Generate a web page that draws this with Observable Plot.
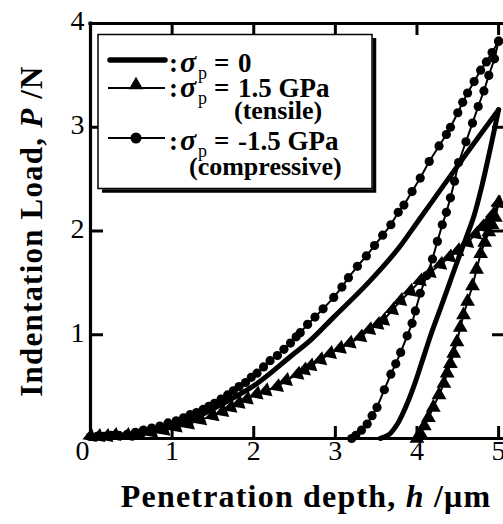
<!DOCTYPE html>
<html><head><meta charset="utf-8">
<script src="https://cdn.jsdelivr.net/npm/d3@7"></script>
<script src="https://cdn.jsdelivr.net/npm/@observablehq/plot@0.6"></script>
<style>body{margin:0;background:#fff} svg{display:block}</style>
</head><body><div id="chart"></div>
<script>
// ---- data ----
const xTicks = [0, 1, 2, 3, 4, 5];
const yTicks = [1, 2, 3, 4];

// sigma_p = 0 (thick solid line)
const zeroLoadH = [0, 0.4, 0.82, 1.23, 1.63, 2.04, 2.45, 2.70, 2.98, 3.39, 3.80, 4.00, 4.20, 4.60, 5.00];
const zeroLoadP = [0.01, 0.02, 0.08, 0.18, 0.34, 0.53, 0.79, 0.95, 1.17, 1.49, 1.86, 2.08, 2.30, 2.74, 3.17];
const zeroUnloadH = [5.00, 4.90, 4.80, 4.70, 4.60, 4.50, 4.40, 4.30, 4.17, 4.07, 3.96, 3.86, 3.76, 3.66, 3.55];
const zeroUnloadP = [3.17, 2.80, 2.45, 2.15, 1.93, 1.72, 1.50, 1.28, 1.00, 0.76, 0.50, 0.30, 0.14, 0.04, 0.00];

// sigma_p = 1.5 GPa (tensile, triangles)
const tenLoadH = [0.00, 0.10, 0.20, 0.30, 0.45, 0.60, 0.75, 0.90, 1.05, 1.20, 1.35, 1.50, 1.62, 1.72, 1.82, 1.92, 2.04, 2.15, 2.29, 2.40, 2.54, 2.62, 2.70, 2.82, 2.94, 3.06, 3.18, 3.31, 3.42, 3.52, 3.59, 3.70, 3.80, 3.92, 4.04, 4.16, 4.29, 4.40, 4.50, 4.62, 4.72, 4.80, 4.86, 4.93, 5.00];
const tenLoadP = [0.02, 0.02, 0.02, 0.03, 0.03, 0.04, 0.06, 0.08, 0.11, 0.14, 0.18, 0.22, 0.26, 0.30, 0.34, 0.38, 0.43, 0.46, 0.50, 0.56, 0.62, 0.66, 0.70, 0.76, 0.82, 0.87, 0.92, 0.98, 1.05, 1.10, 1.14, 1.24, 1.33, 1.42, 1.52, 1.60, 1.68, 1.75, 1.81, 1.89, 1.97, 2.04, 2.08, 2.16, 2.27];
const tenUnloadH = [5.00, 4.96, 4.92, 4.88, 4.83, 4.78, 4.73, 4.68, 4.62, 4.57, 4.53, 4.49, 4.45, 4.41, 4.37, 4.33, 4.27, 4.20, 4.14, 4.09, 4.04, 4.00];
const tenUnloadP = [2.27, 2.13, 2.06, 1.99, 1.89, 1.78, 1.63, 1.47, 1.32, 1.19, 1.07, 0.93, 0.82, 0.72, 0.63, 0.53, 0.42, 0.30, 0.20, 0.12, 0.05, 0.00];

// sigma_p = -1.5 GPa (compressive, circles)
const comLoadH = [0.00, 0.08, 0.16, 0.25, 0.35, 0.45, 0.55, 0.65, 0.75, 0.85, 0.95, 1.05, 1.14, 1.22, 1.30, 1.38, 1.45, 1.52, 1.60, 1.68, 1.75, 1.82, 1.90, 1.97, 2.04, 2.12, 2.20, 2.29, 2.37, 2.45, 2.52, 2.57, 2.66, 2.75, 2.85, 2.98, 3.08, 3.16, 3.27, 3.38, 3.48, 3.58, 3.68, 3.77, 3.84, 3.94, 4.04, 4.15, 4.27, 4.36, 4.41, 4.50, 4.56, 4.62, 4.70, 4.78, 4.85, 4.92, 5.00];
const comLoadP = [0.02, 0.02, 0.02, 0.03, 0.03, 0.04, 0.06, 0.08, 0.10, 0.12, 0.15, 0.17, 0.20, 0.23, 0.25, 0.28, 0.31, 0.34, 0.38, 0.42, 0.46, 0.50, 0.54, 0.59, 0.63, 0.69, 0.75, 0.80, 0.86, 0.92, 0.98, 1.02, 1.10, 1.17, 1.25, 1.36, 1.46, 1.55, 1.66, 1.76, 1.86, 1.96, 2.06, 2.18, 2.25, 2.38, 2.51, 2.67, 2.82, 2.93, 3.00, 3.14, 3.24, 3.33, 3.44, 3.55, 3.63, 3.72, 3.83];
const comUnloadH = [5.00, 4.95, 4.88, 4.82, 4.75, 4.68, 4.60, 4.51, 4.46, 4.41, 4.36, 4.31, 4.25, 4.19, 4.12, 4.04, 3.98, 3.94, 3.88, 3.80, 3.74, 3.68, 3.60, 3.51, 3.45, 3.39, 3.32, 3.25, 3.20];
const comUnloadP = [3.83, 3.66, 3.50, 3.35, 3.20, 3.04, 2.86, 2.66, 2.48, 2.32, 2.18, 2.06, 1.90, 1.73, 1.57, 1.40, 1.23, 1.11, 0.99, 0.83, 0.72, 0.62, 0.47, 0.30, 0.22, 0.14, 0.08, 0.03, 0.00];

// legend texts
const legendValues = ["0", "1.5 GPa", "-1.5 GPa"];
const legendNotes = ["(tensile)", "(compressive)"];

// ---- build tables ----
const rows = (H, P) => H.map((h, i) => ({h, P: P[i]}));
const zeroLoad = rows(zeroLoadH, zeroLoadP), zeroUnload = rows(zeroUnloadH, zeroUnloadP);
const tenLoad = rows(tenLoadH, tenLoadP), tenUnload = rows(tenUnloadH, tenUnloadP);
const comLoad = rows(comLoadH, comLoadP), comUnload = rows(comUnloadH, comUnloadP);

const W = 503, Ht = 524, mL = 90, mR = 0, mT = 23, mB = 86;
const pw = W - mL - mR, ph = Ht - mT - mB;
const font = "'Liberation Serif', 'Times New Roman', serif";

const plot = Plot.plot({
  width: W, height: Ht,
  marginLeft: mL, marginRight: mR, marginTop: mT, marginBottom: mB,
  x: {domain: [0, 5.06], axis: null},
  y: {domain: [0, 4], axis: null},
  style: {fontFamily: font, background: "white", color: "black", overflow: "visible"},
  marks: [
    // curves
    Plot.line(zeroLoad, {x: "h", y: "P", stroke: "black", strokeWidth: 5, curve: "monotone-x"}),
    Plot.line(zeroUnload, {x: "h", y: "P", stroke: "black", strokeWidth: 5, curve: "catmull-rom"}),
    Plot.line(tenLoad, {x: "h", y: "P", stroke: "black", strokeWidth: 2}),
    Plot.line(tenUnload, {x: "h", y: "P", stroke: "black", strokeWidth: 2}),
    Plot.line(comLoad, {x: "h", y: "P", stroke: "black", strokeWidth: 2}),
    Plot.line(comUnload, {x: "h", y: "P", stroke: "black", strokeWidth: 2}),
    Plot.dot(tenLoad, {x: "h", y: "P", symbol: "triangle", r: 5.5, fill: "black", rotate: -110}),
    Plot.dot(tenUnload, {x: "h", y: "P", symbol: "triangle", r: 5.5, fill: "black"}),
    Plot.dot(comLoad, {x: "h", y: "P", r: 4.6, fill: "black"}),
    Plot.dot(comUnload, {x: "h", y: "P", r: 4.6, fill: "black"}),
    // spines
    Plot.ruleY([0], {strokeWidth: 3.2, strokeLinecap: "square"}),
    Plot.ruleY([4], {strokeWidth: 3.2, strokeLinecap: "square"}),
    Plot.ruleX([0], {strokeWidth: 3.2, strokeLinecap: "square"}),
    // inward ticks
    Plot.tickX(xTicks.slice(1), {x: d => d, strokeWidth: 3, insetTop: ph - 12}),
    Plot.tickX(xTicks.slice(1), {x: d => d, strokeWidth: 3, insetBottom: ph - 12}),
    Plot.tickY(yTicks, {y: d => d, strokeWidth: 3, insetRight: pw - 13}),
    Plot.tickY(yTicks.slice(0, 3), {y: d => d, strokeWidth: 3, insetLeft: pw - 11}),
    // tick labels
    Plot.text(xTicks.slice(1), {x: d => d, text: d => String(d), frameAnchor: "bottom", dy: 21, fontSize: 28, fill: "black"}),
    Plot.text(xTicks.slice(0, 1), {x: d => d, text: d => String(d), frameAnchor: "bottom", dy: 21, dx: -8, fontSize: 28, fill: "black"}),
    Plot.text(yTicks, {y: d => d, text: d => String(d), frameAnchor: "left", textAnchor: "end", dx: -6, dy: -2, fontSize: 28, fill: "black"})
  ]
});
document.getElementById("chart").appendChild(plot);

// ---- axis titles and legend (overlay on the same SVG) ----
const svg = d3.select(plot);
const xt = svg.append("text").attr("x", 306).attr("y", 507).attr("text-anchor", "middle")
  .style("font-family", font).style("font-size", "32px").style("font-weight", "bold")
  .style("letter-spacing", "1.2px").attr("fill", "black");
xt.append("tspan").text("Penetration depth, ");
xt.append("tspan").style("font-style", "italic").text("h");
xt.append("tspan").text(" /\u03BCm");

const yt = svg.append("text").attr("transform", "translate(42,231) rotate(-90)").attr("text-anchor", "middle")
  .style("font-family", font).style("font-size", "31px").style("font-weight", "bold")
  .style("letter-spacing", "1.2px").attr("fill", "black");
yt.append("tspan").text("Indentation Load, ");
yt.append("tspan").style("font-style", "italic").text("P");
yt.append("tspan").text(" /N");

const lg = svg.append("g").attr("text-anchor", "start");
lg.append("polyline").attr("points", "102,191 374.5,191 374.5,38").attr("fill", "none").attr("stroke", "black").attr("stroke-width", 3.5);
lg.append("rect").attr("x", 98).attr("y", 34.5).attr("width", 274).attr("height", 154)
  .attr("fill", "white").attr("stroke", "black").attr("stroke-width", 1.5);
lg.append("line").attr("x1", 110).attr("x2", 165).attr("y1", 60).attr("y2", 60).attr("stroke", "black").attr("stroke-width", 5.5).attr("stroke-linecap", "round");
lg.append("line").attr("x1", 108).attr("x2", 165).attr("y1", 88).attr("y2", 88).attr("stroke", "black").attr("stroke-width", 2);
lg.append("path").attr("d", d3.symbol(d3.symbolTriangle, 90)()).attr("transform", "translate(136,85)").attr("fill", "black");
lg.append("line").attr("x1", 108).attr("x2", 165).attr("y1", 138).attr("y2", 138).attr("stroke", "black").attr("stroke-width", 2);
lg.append("circle").attr("cx", 136).attr("cy", 138).attr("r", 5.5).attr("fill", "black");

function txt(x, y, s, size, opts = {}) {
  return lg.append("text").attr("x", x).attr("y", y).attr("text-anchor", "start")
    .style("font-family", font).style("font-size", size + "px").style("font-weight", opts.weight || "bold")
    .style("font-style", opts.italic ? "italic" : "normal").attr("fill", "black").text(s);
}
function entry(y, value) {
  txt(169, y, ":", 27);
  txt(180, y, "\u03C3", 30, {italic: true});
  txt(198, y + 7, "p", 18, {weight: "normal"});
  txt(214, y, "=", 27);
  txt(238, y, value, 27);
}
entry(72, legendValues[0]);
entry(97, legendValues[1]);
entry(150, legendValues[2]);
txt(234, 119, legendNotes[0], 26);
txt(189, 175, legendNotes[1], 26);
</script>
</body></html>
